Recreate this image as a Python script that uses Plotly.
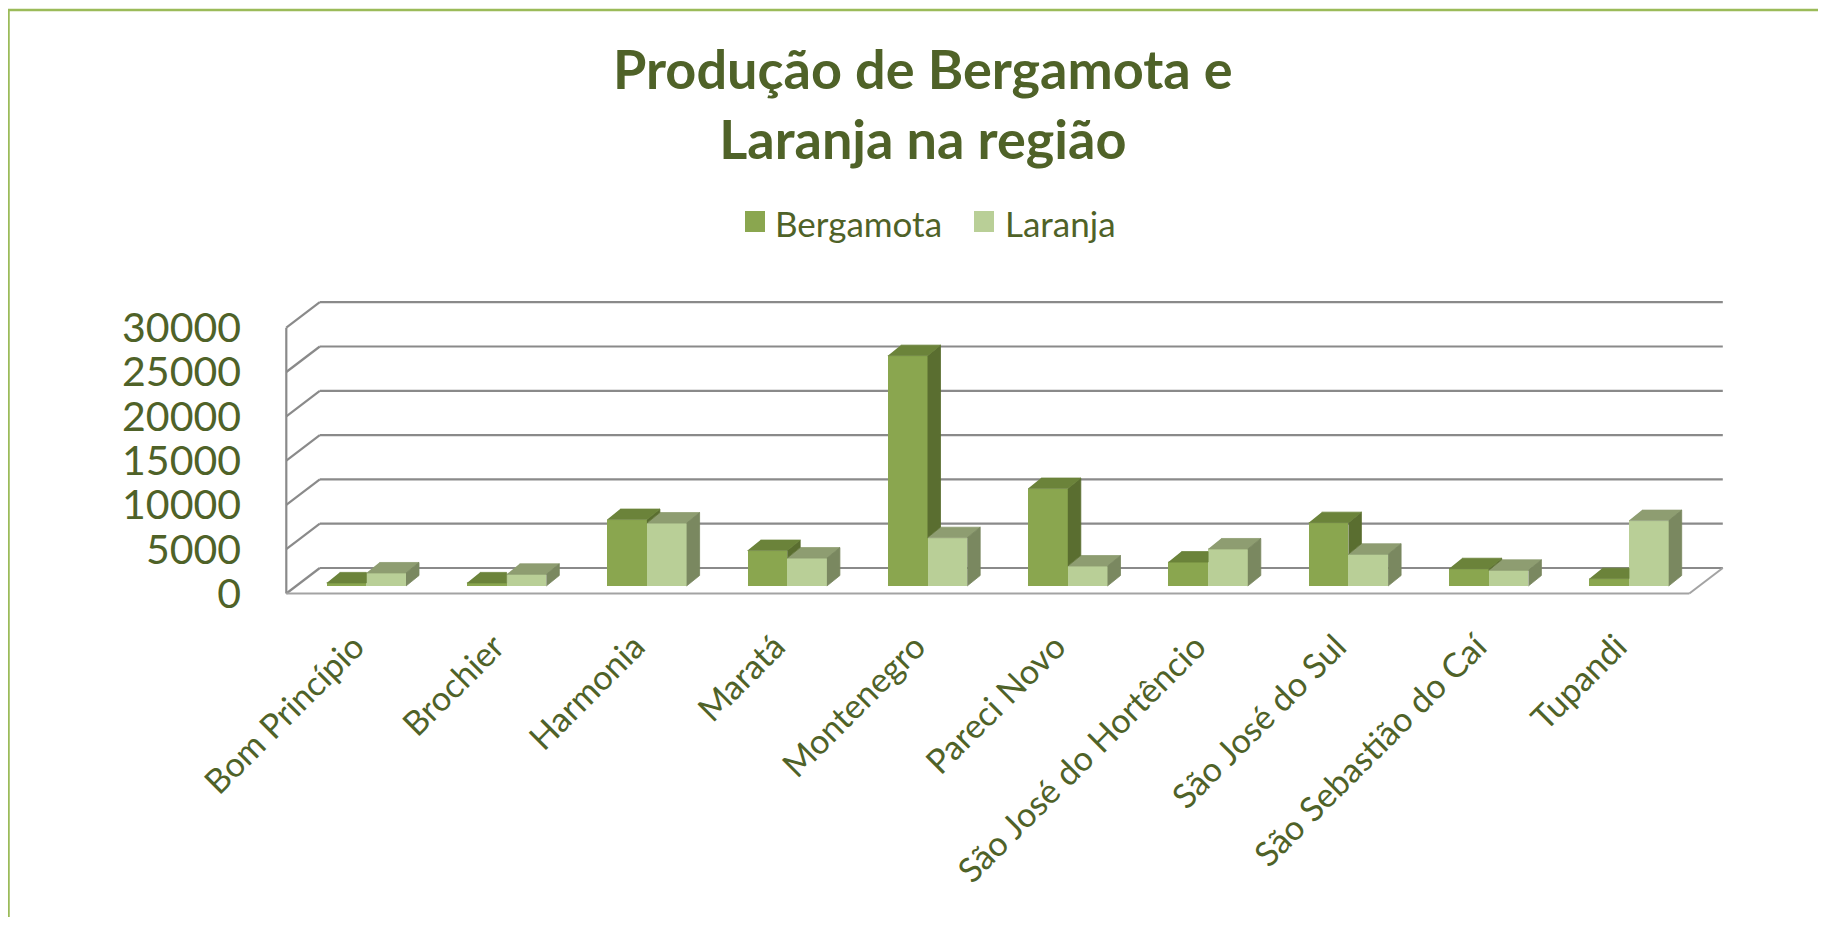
import plotly.graph_objects as go

# ---------------- data ----------------
categories = ["Bom Princípio", "Brochier", "Harmonia", "Maratá", "Montenegro",
              "Pareci Novo", "São José do Hortêncio", "São José do Sul",
              "São Sebastião do Caí", "Tupandi"]
bergamota = [350, 350, 7500, 4000, 26000, 11000, 2700, 7150, 1950, 830]
laranja = [1470, 1320, 7100, 3150, 5450, 2250, 4180, 3580, 1770, 7380]
y_tick_values = [0, 5000, 10000, 15000, 20000, 25000, 30000]
y_tick_labels = ["0", "5000", "10000", "15000", "20000", "25000", "30000"]
title_text = "Produção de Bergamota e<br>Laranja na região"
series_names = ["Bergamota", "Laranja"]

# ---------------- layout geometry (screen pixels) ----------------
OFF = 8                  # default page body margin
W, H = 1810, 909         # figure size
PL, PR, PT, PB = 270, 1740, 285, 600   # plot area on screen
CAT0_PX = 366.3          # screen x of first category centre (bar front plane)
CAT_PX = 140.3           # pixels per category
BASE_PX = 586.0          # screen y of value 0 on bar front plane
VAL_PX = 44.3 / 5000     # pixels per value unit

X_MIN = (PL - CAT0_PX) / CAT_PX
X_MAX = (PR - CAT0_PX) / CAT_PX
Y_MIN = (BASE_PX - PB) / VAL_PX
Y_MAX = (BASE_PX - PT) / VAL_PX


def ux(px):
    return px / CAT_PX


def uy(px):
    return px / VAL_PX


BAR_W = ux(39.7)
DX, DY = ux(13.0), uy(10.5)          # bar depth offset
DXF, DYF = ux(-9.85), uy(-7.5)       # front plane of floor/walls
DXB, DYB = ux(23.65), uy(18.0)       # back wall plane
XL, XR = -0.5, len(categories) - 0.5

TXT = "#4F6228"
GRID = "#8A8A8A"
FLOOR = "#A3A3A3"
BORDER = "#9BBB59"
B_FRONT, B_TOP, B_SIDE = "#8AA64F", "#6B833A", "#5A6E30"
L_FRONT, L_TOP, L_SIDE = "#B9CF97", "#8E9D71", "#7A8860"

idx = list(range(len(categories)))

fig = go.Figure()

# front faces via the library's bar trace
fig.add_trace(go.Bar(x=idx, y=bergamota, width=BAR_W, offset=-BAR_W,
                     marker=dict(color=B_FRONT, line=dict(width=0)),
                     name=series_names[0], showlegend=False))
fig.add_trace(go.Bar(x=idx, y=laranja, width=BAR_W, offset=0,
                     marker=dict(color=L_FRONT, line=dict(width=0)),
                     name=series_names[1], showlegend=False))


def polys(list_of_polys):
    xs, ys = [], []
    for p in list_of_polys:
        for (a, b) in p:
            xs.append(a)
            ys.append(b)
        xs.append(None)
        ys.append(None)
    return xs, ys


l_top, l_side, b_side, b_top = [], [], [], []
for i, hb, hl in zip(idx, bergamota, laranja):
    # Laranja (right bar)
    l_top.append([(i, hl), (i + BAR_W, hl), (i + BAR_W + DX, hl + DY), (i + DX, hl + DY)])
    l_side.append([(i + BAR_W, 0), (i + BAR_W + DX, DY), (i + BAR_W + DX, hl + DY), (i + BAR_W, hl)])
    # Bergamota (left bar)
    if hb >= hl:
        b_top.append([(i - BAR_W, hb), (i, hb), (i + DX, hb + DY), (i - BAR_W + DX, hb + DY)])
        b_side.append([(i, hl), (i + DX, hl + DY), (i + DX, hb + DY), (i, hb)])
    else:
        b_top.append([(i - BAR_W, hb), (i, hb), (i, hb + DY), (i - BAR_W + DX, hb + DY)])

for faces, col in [(l_top, L_TOP), (l_side, L_SIDE), (b_side, B_SIDE), (b_top, B_TOP)]:
    if not faces:
        continue
    xs, ys = polys(faces)
    fig.add_trace(go.Scatter(x=xs, y=ys, mode="lines", fill="toself",
                             fillcolor=col, line=dict(width=0.8, color=col),
                             hoverinfo="skip", showlegend=False))

# ---------------- walls / gridlines ----------------
shapes = []
for v in y_tick_values:
    shapes.append(dict(type="line", xref="x", yref="y", layer="below",
                       x0=XL + DXB, y0=v + DYB, x1=XR + DXB, y1=v + DYB,
                       line=dict(color=GRID, width=2.2)))
    shapes.append(dict(type="line", xref="x", yref="y", layer="below",
                       x0=XL + DXF, y0=v + DYF, x1=XL + DXB, y1=v + DYB,
                       line=dict(color=GRID, width=2.2)))
shapes.append(dict(type="line", xref="x", yref="y", layer="below",
                   x0=XL + DXF, y0=DYF, x1=XL + DXF, y1=y_tick_values[-1] + DYF,
                   line=dict(color=GRID, width=2.2)))
shapes.append(dict(type="line", xref="x", yref="y", layer="below",
                   x0=XL + DXF, y0=DYF, x1=XR + DXF, y1=DYF,
                   line=dict(color=FLOOR, width=2)))
shapes.append(dict(type="line", xref="x", yref="y", layer="below",
                   x0=XR + DXF, y0=DYF, x1=XR + DXB, y1=DYB,
                   line=dict(color=FLOOR, width=2)))


def px2paper_x(px):
    return (px - PL) / (PR - PL)


def px2paper_y(py):
    return (PB - py) / (PB - PT)


# chart border (top and left visible)
shapes.append(dict(type="rect", xref="paper", yref="paper", layer="above",
                   x0=px2paper_x(8.5), y0=px2paper_y(960), x1=px2paper_x(1900), y1=px2paper_y(10),
                   line=dict(color=BORDER, width=2.5), fillcolor="rgba(0,0,0,0)"))

# legend (manual, to get large square swatches)
legend_items = [(series_names[0], B_FRONT, 745, 773), (series_names[1], L_FRONT, 974, 1003)]
annotations = []
for name, col, sx, tx in legend_items:
    shapes.append(dict(type="rect", xref="paper", yref="paper", layer="above",
                       x0=px2paper_x(sx), x1=px2paper_x(sx + 20),
                       y0=px2paper_y(232), y1=px2paper_y(211),
                       line=dict(width=0), fillcolor=col))
    annotations.append(dict(xref="paper", yref="paper", x=px2paper_x(tx), y=px2paper_y(223),
                            xanchor="left", yanchor="middle", showarrow=False, text=name,
                            font=dict(family="Lato", size=35, color=TXT)))

# title
annotations.append(dict(xref="paper", yref="paper", x=px2paper_x(923), y=px2paper_y(34),
                        xanchor="center", yanchor="top", showarrow=False,
                        text="<b>" + title_text + "</b>",
                        font=dict(family="Lato", size=54, color=TXT)))

fig.update_layout(
    width=W, height=H, autosize=False,
    margin=dict(l=PL - OFF, r=OFF + W - PR, t=PT - OFF, b=OFF + H - PB, pad=0),
    paper_bgcolor="white", plot_bgcolor="white",
    barmode="overlay", bargap=0,
    showlegend=False,
    xaxis=dict(range=[X_MIN, X_MAX], tickvals=[i + ux(-12) for i in idx], ticktext=categories,
               tickangle=-45, tickfont=dict(family="Lato", size=34, color=TXT), ticks="",
               showgrid=False, zeroline=False, showline=False, ticklabelstandoff=19,
               fixedrange=True),
    yaxis=dict(range=[Y_MIN, Y_MAX], tickvals=[v + DYF for v in y_tick_values],
               ticktext=y_tick_labels, tickfont=dict(family="Lato", size=41, color=TXT),
               ticks="", showgrid=False, zeroline=False, showline=False,
               ticklabelstandoff=28, fixedrange=True),
    shapes=shapes, annotations=annotations,
)

fig.write_html("out.html")
